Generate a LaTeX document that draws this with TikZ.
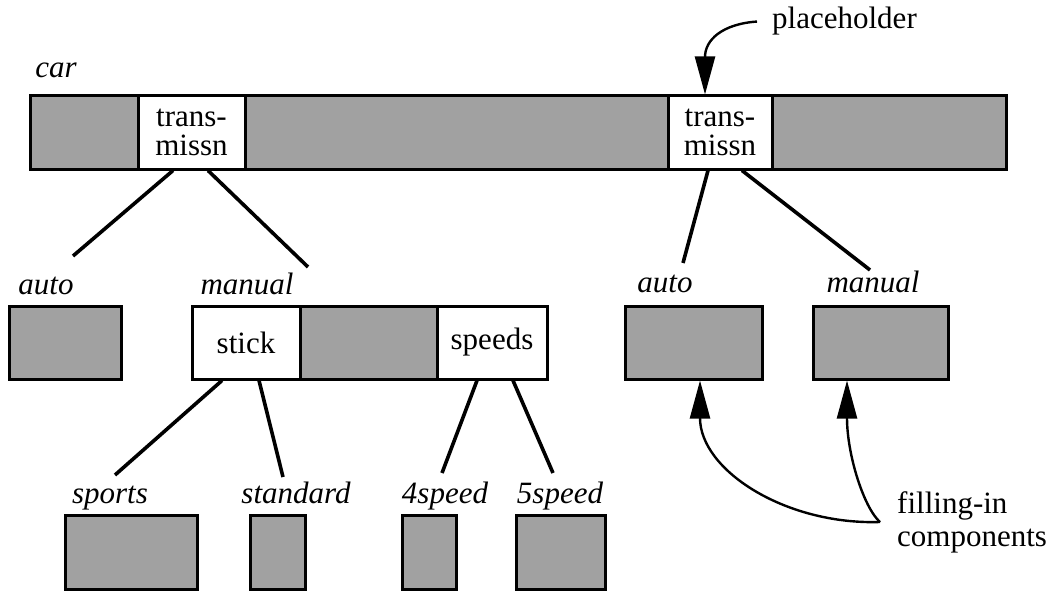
\documentclass[tikz,border=0pt]{standalone}
\usepackage{fontspec}
\setmainfont{Liberation Serif}
\usetikzlibrary{arrows.meta}
\begin{document}
\begin{tikzpicture}[x=1pt,y=-1pt,
  cell/.style={draw=black, line width=3pt, inner sep=0pt,
    font=\fontsize{31}{29}\selectfont, align=center},
  shaded/.style={cell, fill=black!37},
  blank/.style={cell, fill=white},
  lbl/.style={font=\fontsize{31}{33}\selectfont\itshape, anchor=base, inner sep=0pt},
  note/.style={font=\fontsize{31}{33}\selectfont, inner sep=0pt, align=left},
  link/.style={line width=3.6pt},
  pointer/.style={line width=2.4pt, -{Triangle[length=38pt,width=20pt]}},
]
\useasboundingbox (0,0) rectangle (1056,591);

% --- car record (top bar) ---
\node[shaded, minimum width=108pt, minimum height=73pt] (g1) at (84,132.5) {};
\node[shaded, minimum width=423pt, minimum height=73pt] (g2) at (456.5,132.5) {};
\node[shaded, minimum width=234pt, minimum height=73pt] (g3) at (889,132.5) {};
\node[blank, minimum width=107pt, minimum height=73pt] (t1) at (191.5,132.5) {trans-\\missn};
\node[blank, minimum width=104pt, minimum height=73pt] (t2) at (720,132.5) {trans-\\missn};
\node[lbl] (car) at (56,78) {car};

% --- placeholder note ---
\node[note, anchor=base west] (ph) at (772,29) {placeholder};
\draw[pointer] ([xshift=-15pt]ph.west) .. controls (722,24) and (705,40) .. ([xshift=-15pt]t2.north);

% --- second level, left tree ---
\node[shaded, minimum width=112pt, minimum height=73pt] (a1) at (65,342.5) {};
\node[shaded, minimum width=137pt, minimum height=73pt] (mg) at (368.5,342.5) {};
\node[blank, minimum width=108pt, minimum height=73pt] (stick) at (246,342.5) {stick};
\node[blank, minimum width=110pt, minimum height=73pt] (speeds) at (492,342.5) {speeds};
\node[lbl] (la1) at (46,294) {auto};
\node[lbl] (lm1) at (247,294) {manual};

% --- second level, right tree ---
\node[shaded, minimum width=137pt, minimum height=73pt] (a2) at (693.5,342.5) {};
\node[shaded, minimum width=135pt, minimum height=73pt] (m2) at (880.5,342.5) {};
\node[lbl] (la2) at (665,292) {auto};
\node[lbl] (lm2) at (873,292) {manual};

% --- third level ---
\node[shaded, minimum width=132pt, minimum height=74pt] (sp) at (131,552) {};
\node[shaded, minimum width=55pt, minimum height=74pt] (st) at (277.5,552) {};
\node[shaded, minimum width=54pt, minimum height=74pt] (s4) at (429,552) {};
\node[shaded, minimum width=89pt, minimum height=74pt] (s5) at (560.5,552) {};
\node[lbl] (lsp) at (110,503) {sports};
\node[lbl] (lst) at (296,503) {standard};
\node[lbl] (ls4) at (445,503) {4speed};
\node[lbl] (ls5) at (560,503) {5speed};

% --- free ends of the tree branches ---
\coordinate (e1) at (73,256);
\coordinate (e2) at (308,267);
\coordinate (e3) at (683,263);
\coordinate (e4) at (870,270);
\coordinate (e5) at (115,475);
\coordinate (e6) at (283,477);
\coordinate (e7) at (442,473);
\coordinate (e8) at (553,473);

\draw[link] ([xshift=-18.5pt]t1.south) -- (e1);
\draw[link] ([xshift=16.5pt]t1.south) -- (e2);
\draw[link] ([xshift=-12pt]t2.south) -- (e3);
\draw[link] ([xshift=22pt]t2.south) -- (e4);
\draw[link] ([xshift=-24pt]stick.south) -- (e5);
\draw[link] ([xshift=13pt]stick.south) -- (e6);
\draw[link] ([xshift=-15pt]speeds.south) -- (e7);
\draw[link] ([xshift=21pt]speeds.south) -- (e8);

% --- filling-in note ---
\node[note, anchor=north west] (fill) at (897,491) {filling-in\\components};
\coordinate (fc) at (880,522);
\draw[pointer] (fc) .. controls (785,525) and (700,470) .. ([xshift=6.5pt]a2.south);
\draw[pointer] (fc) .. controls (864,508) and (847,455) .. ([xshift=-33.5pt]m2.south);
\end{tikzpicture}
\end{document}
